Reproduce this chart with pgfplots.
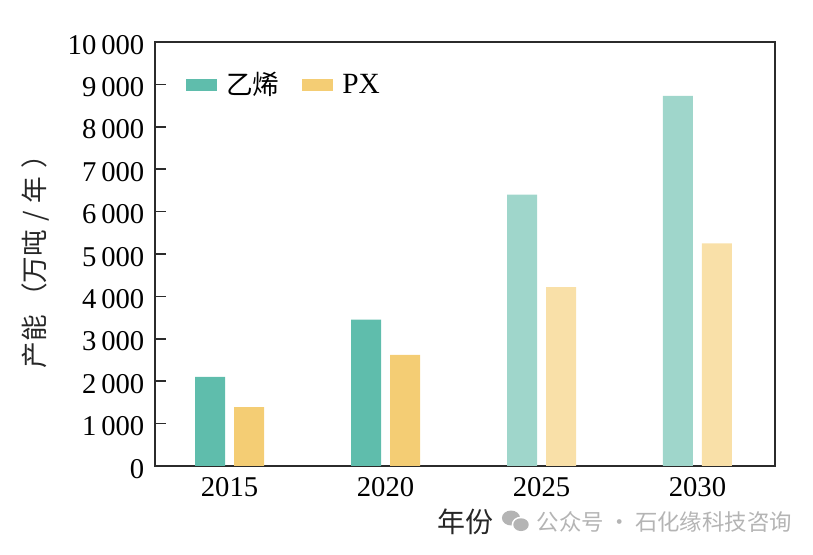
\documentclass[border=0pt]{standalone}
\usepackage{fontspec}
\setmainfont{Liberation Serif}
\newfontfamily\cjk{Noto Sans CJK SC}
\usepackage{pgfplots}
\pgfplotsset{compat=1.18}
\definecolor{tealA}{HTML}{5FBDAC}
\definecolor{tealB}{HTML}{9FD6CB}
\definecolor{goldA}{HTML}{F4CD74}
\definecolor{goldB}{HTML}{F9E0A8}
\definecolor{axisc}{HTML}{2B2B2B}
\definecolor{wm}{HTML}{B4B4B4}
\begin{document}
\begin{tikzpicture}
\path[use as bounding box] (-116.25pt,-66.75pt) rectangle +(609.75pt,416.25pt);
\begin{axis}[
    at={(0pt,0pt)}, anchor=south west,
    scale only axis,
    width=465pt, height=318pt,
    xmin=-0.478, xmax=3.497,
    ymin=0, ymax=10000,
    axis line style={axisc, line width=1.1pt},
    xtick={0,1,2,3},
    xticklabels={2015,2020,2025,2030},
    ytick={0,1000,2000,3000,4000,5000,6000,7000,8000,9000,10000},
    xtick align=inside,
    ytick align=inside,
    xtick pos=left,
    ytick pos=left,
    major x tick style={draw=none},
    scaled y ticks=false,
    /pgf/number format/assume math mode=true,
    /pgf/number format/1000 sep={\hspace{0.17em}},
    tick label style={font=\fontsize{21.5}{24}\selectfont, black},
    yticklabel style={xshift=-4.5pt, yshift=-2pt},
    xticklabel style={yshift=-5pt},
    legend style={draw=none, fill=none, at={(0.05,0.935)}, anchor=north west,
        legend columns=2, font=\fontsize{22}{24}\selectfont,
        /tikz/every even column/.style={column sep=15pt},
        /tikz/every odd column/.style={column sep=5pt},
        inner sep=0pt},
    legend cell align=left,
    legend image code/.code={\fill[#1] (0pt,-4.5pt) rectangle (23pt,4.5pt);},
]
\addplot[ybar, bar width=22.5pt, bar shift=-14.625pt, draw=none, fill=tealA]
    coordinates {(0,2100) (1,3450)};
\addlegendentry{{\cjk\fontsize{20}{24}\selectfont 乙烯}}
\addplot[ybar, bar width=22.5pt, bar shift=14.625pt, draw=none, fill=goldA]
    coordinates {(0,1390) (1,2620)};
\addlegendentry{PX}
\addplot[ybar, bar width=22.5pt, bar shift=-14.625pt, draw=none, fill=tealB, forget plot]
    coordinates {(2,6400) (3,8730)};
\addplot[ybar, bar width=22.5pt, bar shift=14.625pt, draw=none, fill=goldB, forget plot]
    coordinates {(2,4220) (3,5250)};
\end{axis}
% inner y ticks as thin filled boxes, 31.8pt per 1000
\foreach \k in {1,...,9}
    \fill[axisc] (0pt,{\k*31.8pt-0.6pt}) rectangle ++(8.25pt,1.2pt);
% axis titles and watermark, offsets from the axis corner in px*0.75
\node[rotate=90, font=\cjk\fontsize{20}{24}\selectfont, text=black!85] at (-90pt,158pt) {产能\hspace{0.2em}（万吨\hspace{0.3em}/\hspace{0.3em}年\hspace{0.3em}）};
\node[font=\cjk\fontsize{21}{24}\selectfont, text=black!85] at (232.5pt,-42pt) {年份};
\node[font=\cjk\fontsize{16.8}{20}\selectfont, text=wm, anchor=west, inner sep=0pt] at (286pt,-42pt) {公众号\hspace{0.2em}·\hspace{0.2em}石化缘科技咨询};
\fill[wm] (267pt,-39pt) ellipse (6.8pt and 5.6pt);
\fill[white] (274.5pt,-44pt) ellipse (7pt and 6pt);
\fill[wm] (274.5pt,-44pt) ellipse (5.8pt and 4.8pt);
\end{tikzpicture}
\end{document}
